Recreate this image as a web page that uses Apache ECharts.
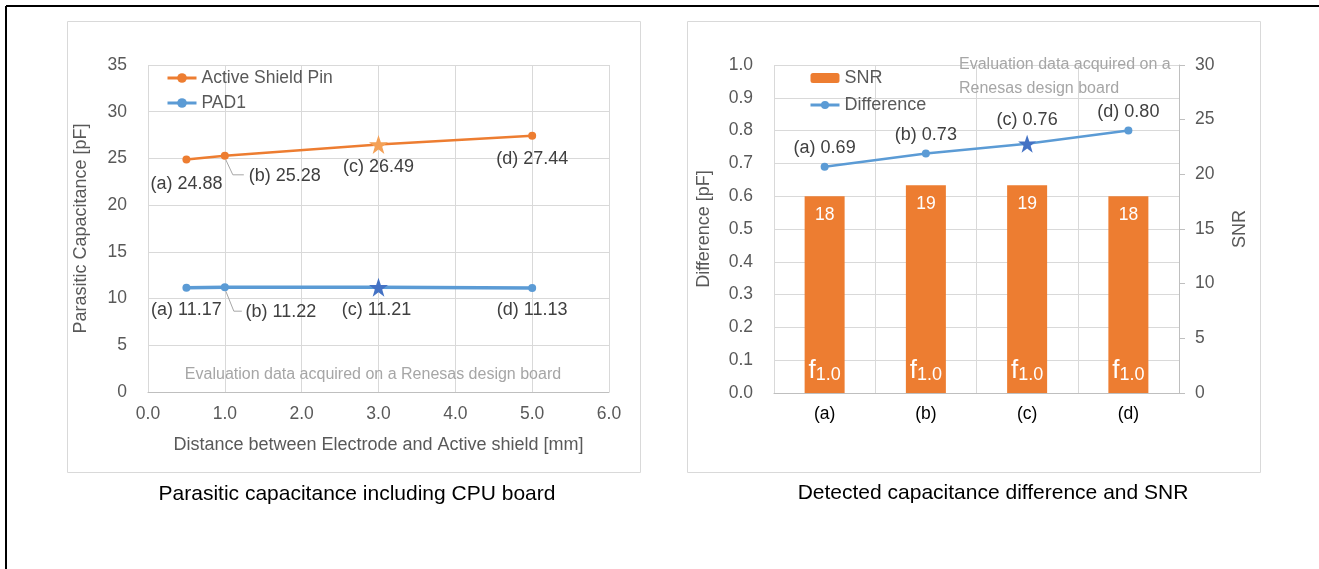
<!DOCTYPE html>
<html>
<head>
<meta charset="utf-8">
<script src="https://cdn.jsdelivr.net/npm/echarts@6/dist/echarts.min.js"></script>
<style>
  html, body { margin: 0; padding: 0; background: #fff; }
  #chart { width: 1319px; height: 569px; }
</style>
</head>
<body>
<div id="chart"></div>
<script>
// left panel: parasitic capacitance vs. electrode / shield distance
const distances = [0.5, 1.0, 3.0, 5.0];
const pointTags = ['(a)', '(b)', '(c)', '(d)'];
const activeShieldPin = [24.88, 25.28, 26.49, 27.44];
const pad1 = [11.17, 11.22, 11.21, 11.13];

// right panel: detected capacitance difference and SNR
const cases = ['(a)', '(b)', '(c)', '(d)'];
const snr = [18, 19, 19, 18];
const difference = [0.69, 0.73, 0.76, 0.80];
const bandNames = ['1.0', '1.0', '1.0', '1.0'];

const FONT = "'Liberation Sans', Arial, sans-serif";
const GREY = '#595959';
const GRID_LINE = '#D9D9D9';
const ORANGE = '#ED7D31';
const BLUE = '#5B9BD5';
const DARK_BLUE = '#4472C4';
const STAR = 'path://M50,2 L61.8,36.2 L97.6,36.2 L68.6,57.6 L79.4,92 L50,71 L20.6,92 L31.4,57.6 L2.4,36.2 L38.2,36.2 Z';

// which point is drawn as a star, and where each label sits
const starIndex = 2;
const leftOffsets = {
  orange: [[0, 6], [60, 2], [0, -1], [0, 5]],
  blue: [[0, 4], [56, 7], [-2, -1], [0, 4]]
};

function scatterItems(ys, starColor, offsets) {
  return ys.map((y, i) => {
    const item = {
      value: [distances[i], y],
      label: { offset: offsets[i] }
    };
    if (i === starIndex) {
      item.symbol = STAR;
      item.symbolSize = 19;
      item.itemStyle = { color: starColor };
    }
    return item;
  });
}

const chart = echarts.init(document.getElementById('chart'));

const axisText = { color: GREY, fontSize: 17.5, fontFamily: FONT };
const labelText = { color: '#404040', fontSize: 18, fontFamily: FONT };

const option = {
  animation: false,
  textStyle: { fontFamily: FONT },
  grid: [
    { left: 148, top: 65, width: 461, height: 327 },
    { left: 774, top: 65, width: 405, height: 328 }
  ],
  legend: [
    {
      data: ['Active Shield Pin', 'PAD1'],
      orient: 'vertical',
      left: 166, top: 69, padding: 0,
      itemWidth: 29, itemHeight: 12, itemGap: 7,
      lineStyle: { width: 3 },
      textStyle: { color: GREY, fontSize: 17.5, fontFamily: FONT }
    },
    {
      data: ['SNR', 'Difference'],
      orient: 'vertical',
      left: 809, top: 69, padding: 0,
      itemWidth: 29, itemHeight: 10, itemGap: 9,
      lineStyle: { width: 3 },
      textStyle: { color: GREY, fontSize: 18, fontFamily: FONT }
    }
  ],
  xAxis: [
    {
      type: 'value', gridIndex: 0,
      min: 0, max: 6, interval: 1,
      axisLine: { show: true, lineStyle: { color: '#BFBFBF' } },
      axisTick: { show: false },
      splitLine: { show: true, lineStyle: { color: GRID_LINE } },
      axisLabel: Object.assign({ margin: 13, formatter: v => v.toFixed(1) }, axisText),
      name: 'Distance between Electrode and Active shield [mm]',
      nameLocation: 'middle', nameGap: 44,
      nameTextStyle: { color: GREY, fontSize: 18, fontFamily: FONT }
    },
    {
      type: 'category', gridIndex: 1,
      data: cases,
      axisLine: { show: true, lineStyle: { color: '#BFBFBF' } },
      axisTick: { show: false },
      splitLine: { show: true, interval: 0, lineStyle: { color: GRID_LINE } },
      axisLabel: { margin: 12, color: '#000', fontSize: 17.5, fontFamily: FONT }
    }
  ],
  yAxis: [
    {
      type: 'value', gridIndex: 0,
      min: 0, max: 35, interval: 5,
      axisLine: { show: false },
      axisTick: { show: false },
      splitLine: { show: true, lineStyle: { color: GRID_LINE } },
      axisLabel: Object.assign({ margin: 21 }, axisText),
      name: 'Parasitic Capacitance [pF]',
      nameLocation: 'middle', nameGap: 58, nameRotate: 90,
      nameTextStyle: { color: GREY, fontSize: 18, fontFamily: FONT }
    },
    {
      type: 'value', gridIndex: 1, position: 'left',
      min: 0, max: 1, interval: 0.1,
      axisLine: { show: false },
      axisTick: { show: false },
      splitLine: { show: true, lineStyle: { color: GRID_LINE } },
      axisLabel: Object.assign({ margin: 21, formatter: v => v.toFixed(1) }, axisText),
      name: 'Difference [pF]',
      nameLocation: 'middle', nameGap: 61, nameRotate: 90,
      nameTextStyle: { color: GREY, fontSize: 18, fontFamily: FONT }
    },
    {
      type: 'value', gridIndex: 1, position: 'right',
      min: 0, max: 30, interval: 5,
      axisLine: { show: true, lineStyle: { color: '#BFBFBF' } },
      axisTick: { show: true, length: 6, lineStyle: { color: '#BFBFBF' } },
      splitLine: { show: false },
      axisLabel: Object.assign({ margin: 16 }, axisText),
      name: 'SNR',
      nameLocation: 'middle', nameGap: 52, nameRotate: 90,
      nameTextStyle: { color: GREY, fontSize: 18, fontFamily: FONT }
    }
  ],
  series: [
    {
      name: 'Active Shield Pin', type: 'line',
      xAxisIndex: 0, yAxisIndex: 0,
      symbol: 'circle', symbolSize: 8,
      itemStyle: { color: ORANGE },
      lineStyle: { color: ORANGE, width: 2.5 },
      data: scatterItems(activeShieldPin, '#F4A157', leftOffsets.orange),
      label: Object.assign({
        show: true, position: 'bottom', distance: 5,
        formatter: p => pointTags[p.dataIndex] + ' ' + activeShieldPin[p.dataIndex].toFixed(2)
      }, labelText)
    },
    {
      name: 'PAD1', type: 'line',
      xAxisIndex: 0, yAxisIndex: 0,
      symbol: 'circle', symbolSize: 8,
      itemStyle: { color: BLUE },
      lineStyle: { color: BLUE, width: 3.5 },
      data: scatterItems(pad1, DARK_BLUE, leftOffsets.blue),
      label: Object.assign({
        show: true, position: 'bottom', distance: 5,
        formatter: p => pointTags[p.dataIndex] + ' ' + pad1[p.dataIndex].toFixed(2)
      }, labelText)
    },
    {
      name: 'SNR', type: 'bar',
      xAxisIndex: 1, yAxisIndex: 2,
      barWidth: 40,
      itemStyle: { color: ORANGE },
      data: snr,
      label: {
        show: true, position: 'insideTop', distance: 10,
        color: '#fff', fontSize: 17.5, fontFamily: FONT
      }
    },
    {
      name: 'band', type: 'bar',
      xAxisIndex: 1, yAxisIndex: 2,
      barWidth: 40, barGap: '-100%',
      silent: true,
      itemStyle: { color: 'rgba(0,0,0,0)' },
      data: snr,
      label: {
        show: true, position: 'insideBottom', distance: 9,
        formatter: p => '{f|f}{s|' + bandNames[p.dataIndex] + '}',
        rich: {
          f: { color: '#fff', fontSize: 26, fontFamily: FONT, verticalAlign: 'bottom', lineHeight: 28 },
          s: { color: '#fff', fontSize: 18, fontFamily: FONT, verticalAlign: 'bottom', lineHeight: 20 }
        }
      }
    },
    {
      name: 'Difference', type: 'line',
      xAxisIndex: 1, yAxisIndex: 1,
      symbol: 'circle', symbolSize: 8,
      itemStyle: { color: BLUE },
      lineStyle: { color: BLUE, width: 2.5 },
      z: 5,
      data: difference.map((v, i) => i === starIndex
        ? { value: v, symbol: STAR, symbolSize: 18, itemStyle: { color: DARK_BLUE } }
        : v),
      label: Object.assign({
        show: true, position: 'top', distance: 6,
        formatter: p => cases[p.dataIndex] + ' ' + difference[p.dataIndex].toFixed(2)
      }, labelText)
    }
  ],
  graphic: [
    // page frame (top and left edges only)
    { type: 'line', shape: { x1: 6, y1: 6, x2: 1319, y2: 6 }, style: { stroke: '#000', lineWidth: 2 }, z: 100 },
    { type: 'line', shape: { x1: 6, y1: 6, x2: 6, y2: 569 }, style: { stroke: '#000', lineWidth: 2 }, z: 100 },
    // chart area boxes
    { type: 'rect', shape: { x: 67.5, y: 21.5, width: 573, height: 451 }, style: { fill: 'none', stroke: GRID_LINE, lineWidth: 1 } },
    { type: 'rect', shape: { x: 687.5, y: 21.5, width: 573, height: 451 }, style: { fill: 'none', stroke: GRID_LINE, lineWidth: 1 } },
    // notes
    {
      type: 'text', x: 373, y: 375, z: 50,
      style: { text: 'Evaluation data acquired on a Renesas design board', fill: '#A6A6A6', fontSize: 16, fontFamily: FONT, align: 'center', verticalAlign: 'middle' }
    },
    {
      type: 'text', x: 959, y: 53, z: 50,
      style: { text: 'Evaluation data acquired on a\nRenesas design board', fill: '#A6A6A6', fontSize: 16, lineHeight: 24, fontFamily: FONT, align: 'left', verticalAlign: 'top' }
    },
    // captions
    {
      type: 'text', x: 357, y: 494,
      style: { text: 'Parasitic capacitance including CPU board', fill: '#000', fontSize: 21, fontFamily: FONT, align: 'center', verticalAlign: 'middle' }
    },
    {
      type: 'text', x: 993, y: 493,
      style: { text: 'Detected capacitance difference and SNR', fill: '#000', fontSize: 21, fontFamily: FONT, align: 'center', verticalAlign: 'middle' }
    }
  ]
};

chart.setOption(option);

// leader lines from point (b) to its label, anchored through the axis scale
function leader(value, bends) {
  const p = chart.convertToPixel({ gridIndex: 0 }, value);
  return {
    type: 'polyline', z: 60, silent: true,
    shape: { points: bends.map(d => [p[0] + d[0], p[1] + d[1]]) },
    style: { stroke: '#A6A6A6', lineWidth: 1, fill: 'none' }
  };
}
const extra = option.graphic.concat([
  leader([distances[1], activeShieldPin[1]], [[1, 4], [8, 19], [19, 19]]),
  leader([distances[1], pad1[1]], [[1, 4], [9, 24], [17, 24]])
]);
chart.setOption({ graphic: extra });
</script>
</body>
</html>
